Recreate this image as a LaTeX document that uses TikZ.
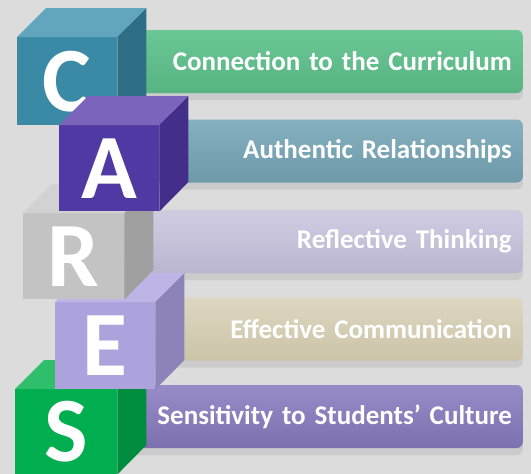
\documentclass[tikz,border=0pt]{standalone}
\usepackage{fontspec}
\setmainfont{Carlito}
\usetikzlibrary{positioning,shadows,calc}

\definecolor{bggray}{HTML}{DCDCDC}
\definecolor{greenTop}{HTML}{6CC797}
\definecolor{greenBot}{HTML}{58B382}
\definecolor{tealTop}{HTML}{85B0BF}
\definecolor{tealBot}{HTML}{6E99A9}
\definecolor{lilacTop}{HTML}{CFCCE2}
\definecolor{lilacBot}{HTML}{BAB6D0}
\definecolor{sandTop}{HTML}{DDD7C1}
\definecolor{sandBot}{HTML}{CBC4A8}
\definecolor{plumTop}{HTML}{978BC8}
\definecolor{plumBot}{HTML}{7D70AE}
\definecolor{cFront}{HTML}{3A8AA6}
\definecolor{cTop}{HTML}{62A5BF}
\definecolor{cSide}{HTML}{2E6F87}
\definecolor{aFront}{HTML}{5139A3}
\definecolor{aTop}{HTML}{7A64BC}
\definecolor{aSide}{HTML}{432F89}
\definecolor{rFront}{HTML}{C3C3C3}
\definecolor{rTop}{HTML}{D2D2D2}
\definecolor{rSide}{HTML}{A0A0A0}
\definecolor{eFront}{HTML}{ADA3DC}
\definecolor{eTop}{HTML}{BEB5E6}
\definecolor{eSide}{HTML}{8D83B9}
\definecolor{sFront}{HTML}{00AD4F}
\definecolor{sTop}{HTML}{2FBE6B}
\definecolor{sSide}{HTML}{008C3F}

\begin{document}
\begin{tikzpicture}[x=1pt,y=-1pt]
    \tikzstyle{every node}=[inner sep=0,rectangle]
    \tikzstyle{bar}=[rounded corners=6,minimum height=63,text width=381,align=right,inner xsep=11,text=white,
                     font=\bfseries\fontsize{27}{30}\selectfont,
                     drop shadow={shadow xshift=0pt,shadow yshift=-7pt,opacity=.18}]
    \tikzstyle{cubefront}=[text=white,font=\bfseries\fontsize{92}{92}\selectfont]

    \fill[bggray] (0,0) rectangle (531,474);
    \useasboundingbox (0,0) rectangle (531,474);

    % the five bars
    \foreach \n/\yc/\topc/\botc/\txt in {
        1/61.5/greenTop/greenBot/Connection to the Curriculum,
        2/151/tealTop/tealBot/Authentic Relationships,
        3/241.5/lilacTop/lilacBot/Reflective Thinking,
        4/329/sandTop/sandBot/Effective Communication,
        5/416.5/plumTop/plumBot/Sensitivity to Students’ Culture} {
        \node[bar,top color=\topc,bottom color=\botc,anchor=east] (bar\n) at (523,\yc) {\txt};
    }

    % the cubes, in stacking order (S under E under R under A)
    \foreach \n/\x/\y/\w/\h/\fc/\tc/\sc/\letter in {
        c/17/37/100/88/cFront/cTop/cSide/C,
        s/15/389/102/85/sFront/sTop/sSide/S,
        e/55/302/100/87/eFront/eTop/eSide/E,
        r/23/213/101/86/rFront/rTop/rSide/R,
        a/59/125/100/86/aFront/aTop/aSide/A} {
        \node[cubefront,fill=\fc,minimum width=\w,minimum height=\h,anchor=north west] (cube\n) at (\x,\y) {\letter};
        \fill[\tc] (cube\n.north west) -- ++(29,-29) -- ++(\w,0) -- (cube\n.north east) -- cycle;
        \fill[\sc] (cube\n.north east) -- ++(29,-29) -- ++(0,\h) -- (cube\n.south east) -- cycle;
    }
\end{tikzpicture}
\end{document}
